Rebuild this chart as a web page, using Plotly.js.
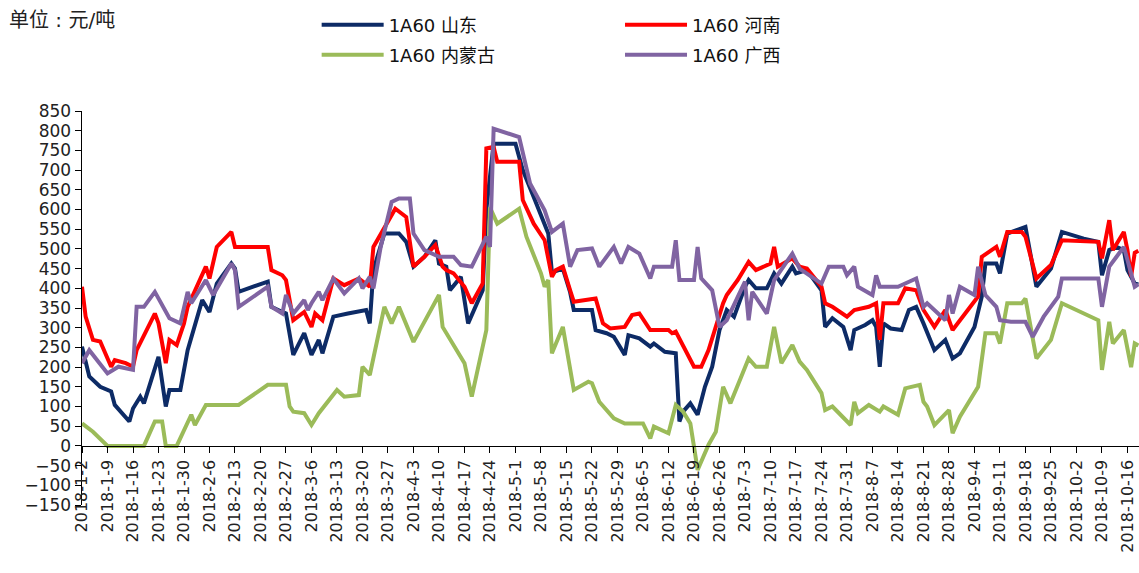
<!DOCTYPE html>
<html>
<head>
<meta charset="utf-8">
<script src="https://cdn.plot.ly/plotly-3.0.1.min.js"></script>
<style>html,body{margin:0;padding:0;background:#fff;}#chart{width:1139px;height:573px;}</style>
</head>
<body>
<div id="chart"></div>
<script>
// 1A60 山东
const sdDates = ["2018-01-02","2018-01-04","2018-01-07","2018-01-10","2018-01-11","2018-01-15","2018-01-16","2018-01-18","2018-01-19","2018-01-23","2018-01-25","2018-01-26","2018-01-29","2018-01-31","2018-02-04","2018-02-06","2018-02-08","2018-02-12","2018-02-13","2018-02-14","2018-02-22","2018-02-23","2018-02-26","2018-02-27","2018-03-01","2018-03-04","2018-03-06","2018-03-08","2018-03-09","2018-03-12","2018-03-16","2018-03-21","2018-03-22","2018-03-23","2018-03-26","2018-03-30","2018-04-01","2018-04-03","2018-04-06","2018-04-09","2018-04-10","2018-04-12","2018-04-13","2018-04-16","2018-04-18","2018-04-22","2018-04-23","2018-04-25","2018-05-01","2018-05-03","2018-05-06","2018-05-10","2018-05-11","2018-05-14","2018-05-16","2018-05-17","2018-05-22","2018-05-23","2018-05-26","2018-05-28","2018-05-31","2018-06-01","2018-06-04","2018-06-07","2018-06-08","2018-06-11","2018-06-14","2018-06-15","2018-06-16","2018-06-18","2018-06-20","2018-06-22","2018-06-24","2018-06-26","2018-06-28","2018-06-30","2018-07-03","2018-07-04","2018-07-06","2018-07-09","2018-07-11","2018-07-13","2018-07-16","2018-07-17","2018-07-20","2018-07-24","2018-07-25","2018-07-27","2018-07-30","2018-08-01","2018-08-02","2018-08-05","2018-08-07","2018-08-08","2018-08-09","2018-08-10","2018-08-12","2018-08-15","2018-08-17","2018-08-19","2018-08-21","2018-08-24","2018-08-27","2018-08-29","2018-08-31","2018-09-04","2018-09-06","2018-09-07","2018-09-10","2018-09-11","2018-09-13","2018-09-18","2018-09-21","2018-09-25","2018-09-28","2018-10-04","2018-10-08","2018-10-09","2018-10-11","2018-10-13","2018-10-15","2018-10-16","2018-10-18","2018-10-19"];
const sdValues = [252,176,150,138,104,62,95,125,108,226,100,142,142,243,370,340,412,463,450,391,417,353,340,336,231,286,231,269,235,328,336,345,311,446,539,539,518,455,480,522,463,455,395,429,311,395,600,767,767,700,632,539,440,450,390,345,345,294,286,277,231,281,273,252,260,239,235,62,87,108,79,150,201,294,345,328,404,421,400,400,438,412,455,438,446,395,302,324,302,243,294,307,319,302,201,311,298,294,345,353,311,243,269,222,235,302,379,463,463,438,539,556,404,450,543,526,518,433,497,505,497,446,412,410];

// 1A60 河南
const hnDates = ["2018-01-02","2018-01-03","2018-01-05","2018-01-07","2018-01-10","2018-01-11","2018-01-14","2018-01-16","2018-01-17","2018-01-22","2018-01-23","2018-01-25","2018-01-26","2018-01-28","2018-01-30","2018-01-31","2018-02-05","2018-02-06","2018-02-08","2018-02-12","2018-02-13","2018-02-22","2018-02-23","2018-02-26","2018-02-27","2018-03-01","2018-03-04","2018-03-06","2018-03-07","2018-03-09","2018-03-12","2018-03-15","2018-03-19","2018-03-22","2018-03-23","2018-03-26","2018-03-29","2018-04-01","2018-04-02","2018-04-03","2018-04-06","2018-04-09","2018-04-11","2018-04-12","2018-04-14","2018-04-17","2018-04-19","2018-04-22","2018-04-23","2018-04-25","2018-04-26","2018-05-02","2018-05-03","2018-05-06","2018-05-09","2018-05-11","2018-05-12","2018-05-14","2018-05-16","2018-05-17","2018-05-23","2018-05-25","2018-05-27","2018-05-31","2018-06-02","2018-06-04","2018-06-07","2018-06-12","2018-06-13","2018-06-14","2018-06-19","2018-06-21","2018-06-23","2018-06-27","2018-06-28","2018-07-01","2018-07-04","2018-07-06","2018-07-10","2018-07-11","2018-07-12","2018-07-16","2018-07-18","2018-07-20","2018-07-24","2018-07-25","2018-07-27","2018-07-31","2018-08-02","2018-08-06","2018-08-08","2018-08-09","2018-08-10","2018-08-14","2018-08-16","2018-08-19","2018-08-21","2018-08-24","2018-08-27","2018-08-29","2018-09-05","2018-09-06","2018-09-10","2018-09-11","2018-09-13","2018-09-17","2018-09-18","2018-09-21","2018-09-25","2018-09-28","2018-10-08","2018-10-09","2018-10-11","2018-10-12","2018-10-15","2018-10-16","2018-10-17","2018-10-18","2018-10-19"];
const hnValues = [404,328,269,265,201,218,210,201,243,336,311,210,269,256,311,353,455,425,505,543,505,505,446,433,421,319,340,302,336,319,425,408,425,404,505,556,602,581,514,455,480,510,455,446,438,404,362,412,755,759,721,721,624,564,522,429,446,455,395,366,374,311,298,302,332,336,294,294,286,290,201,201,243,362,383,421,467,446,463,505,455,476,455,450,404,362,353,328,345,353,362,269,362,362,400,395,345,302,345,294,379,480,505,480,543,543,531,425,459,522,518,476,573,497,543,497,430,490,495];

// 1A60 内蒙古
const nmgDates = ["2018-01-02","2018-01-05","2018-01-09","2018-01-19","2018-01-22","2018-01-24","2018-01-25","2018-01-28","2018-02-01","2018-02-02","2018-02-05","2018-02-14","2018-02-22","2018-02-27","2018-02-28","2018-03-01","2018-03-04","2018-03-06","2018-03-08","2018-03-13","2018-03-15","2018-03-19","2018-03-20","2018-03-22","2018-03-26","2018-03-28","2018-03-30","2018-04-03","2018-04-10","2018-04-11","2018-04-17","2018-04-19","2018-04-23","2018-04-24","2018-04-26","2018-05-02","2018-05-04","2018-05-08","2018-05-09","2018-05-10","2018-05-11","2018-05-14","2018-05-17","2018-05-21","2018-05-22","2018-05-24","2018-05-28","2018-05-31","2018-06-05","2018-06-07","2018-06-08","2018-06-12","2018-06-14","2018-06-16","2018-06-18","2018-06-20","2018-06-23","2018-06-25","2018-06-27","2018-06-29","2018-07-02","2018-07-04","2018-07-06","2018-07-09","2018-07-11","2018-07-13","2018-07-16","2018-07-18","2018-07-20","2018-07-24","2018-07-25","2018-07-27","2018-08-01","2018-08-02","2018-08-03","2018-08-06","2018-08-09","2018-08-10","2018-08-14","2018-08-16","2018-08-20","2018-08-21","2018-08-22","2018-08-24","2018-08-28","2018-08-29","2018-08-31","2018-09-05","2018-09-07","2018-09-10","2018-09-11","2018-09-13","2018-09-17","2018-09-18","2018-09-21","2018-09-25","2018-09-28","2018-10-08","2018-10-09","2018-10-11","2018-10-12","2018-10-15","2018-10-17","2018-10-18","2018-10-19"];
const nmgValues = [57,36,0,0,62,62,0,0,79,53,104,104,155,155,100,87,83,53,83,142,125,129,201,180,353,311,353,264,383,302,210,125,294,605,564,602,531,438,404,421,235,302,142,163,159,112,70,57,57,19,49,32,104,87,57,-61,3,36,150,108,176,222,201,201,302,210,256,214,193,134,91,100,53,112,83,104,87,100,79,146,155,112,100,53,91,32,74,150,286,286,260,362,362,374,222,269,362,319,193,315,260,294,200,260,255];

// 1A60 广西
const gxDates = ["2018-01-02","2018-01-04","2018-01-09","2018-01-12","2018-01-16","2018-01-17","2018-01-19","2018-01-22","2018-01-26","2018-01-29","2018-01-31","2018-02-01","2018-02-05","2018-02-07","2018-02-12","2018-02-13","2018-02-14","2018-02-22","2018-02-23","2018-02-26","2018-02-27","2018-02-28","2018-03-01","2018-03-04","2018-03-05","2018-03-06","2018-03-08","2018-03-09","2018-03-12","2018-03-15","2018-03-19","2018-03-20","2018-03-22","2018-03-23","2018-03-25","2018-03-28","2018-03-30","2018-04-02","2018-04-03","2018-04-06","2018-04-10","2018-04-14","2018-04-16","2018-04-19","2018-04-23","2018-04-24","2018-04-25","2018-05-02","2018-05-05","2018-05-09","2018-05-11","2018-05-14","2018-05-16","2018-05-18","2018-05-22","2018-05-24","2018-05-28","2018-05-30","2018-06-01","2018-06-04","2018-06-07","2018-06-08","2018-06-13","2018-06-14","2018-06-15","2018-06-19","2018-06-20","2018-06-21","2018-06-24","2018-06-26","2018-06-28","2018-07-03","2018-07-04","2018-07-05","2018-07-09","2018-07-11","2018-07-16","2018-07-18","2018-07-24","2018-07-26","2018-07-30","2018-07-31","2018-08-02","2018-08-03","2018-08-07","2018-08-08","2018-08-09","2018-08-14","2018-08-16","2018-08-19","2018-08-21","2018-08-22","2018-08-27","2018-08-28","2018-08-29","2018-08-31","2018-09-04","2018-09-05","2018-09-07","2018-09-10","2018-09-11","2018-09-14","2018-09-18","2018-09-20","2018-09-23","2018-09-27","2018-09-28","2018-10-08","2018-10-09","2018-10-11","2018-10-13","2018-10-15","2018-10-16","2018-10-18","2018-10-19"];
const gxValues = [210,243,184,201,193,353,353,391,324,311,391,362,421,383,463,446,353,404,353,336,383,362,336,370,345,362,391,370,425,387,425,400,429,400,505,619,628,628,539,497,480,480,459,455,531,505,805,784,666,598,543,564,455,497,501,455,505,463,505,488,425,455,455,522,421,421,505,425,395,302,319,417,319,391,336,421,488,450,412,455,455,433,455,404,383,433,404,404,412,425,353,362,319,383,336,404,383,455,383,353,319,315,315,277,328,379,425,425,353,455,480,505,472,404,410];

const seriesNames = ["1A60 山东", "1A60 河南", "1A60 内蒙古", "1A60 广西"];
const seriesColors = ["#0D2B66", "#FF0000", "#9BBB59", "#8064A2"];
const unitLabel = "单位 : 元/吨";

const font = "DejaVu Sans, Noto Sans CJK SC, sans-serif";
const xs = [sdDates, hnDates, nmgDates, gxDates];
const ys = [sdValues, hnValues, nmgValues, gxValues];
const legendIds = ["legend", "legend2", "legend3", "legend4"];

const traces = seriesNames.map((n, i) => ({
  type: "scatter", mode: "lines", name: n, x: xs[i], y: ys[i],
  line: {color: seriesColors[i], width: 4},
  legend: legendIds[i], hoverinfo: "skip"
}));

const legendBase = {orientation: "h", xanchor: "left", yanchor: "middle", bgcolor: "rgba(0,0,0,0)",
  font: {family: font, size: 18, color: "#111"}, itemwidth: 62};
const colX = [0.222, 0.509];
const rowY = [1.218, 1.142];

const layout = {
  width: 1139, height: 573,
  margin: {l: 82, r: 0, t: 111, b: 68},
  paper_bgcolor: "#fff", plot_bgcolor: "#fff",
  showlegend: true,
  legend: Object.assign({}, legendBase, {x: colX[0], y: rowY[0]}),
  legend2: Object.assign({}, legendBase, {x: colX[1], y: rowY[0]}),
  legend3: Object.assign({}, legendBase, {x: colX[0], y: rowY[1]}),
  legend4: Object.assign({}, legendBase, {x: colX[1], y: rowY[1]}),
  xaxis: {
    type: "date", range: ["2018-01-02", "2018-10-19 04:00"],
    anchor: "free", position: 0.15,
    tick0: "2018-01-02", dtick: 7 * 86400000, tickformat: "%Y-%-m-%-d",
    tickangle: -90, ticks: "outside", ticklen: 6, tickcolor: "#000",
    showline: true, linecolor: "#000", linewidth: 1.5,
    showgrid: false, zeroline: false, automargin: false,
    tickfont: {family: font, size: 16, color: "#222"}
  },
  yaxis: {
    range: [-150, 850], dtick: 50, tick0: 0,
    ticks: "outside", ticklen: 6, tickcolor: "#000",
    showline: true, linecolor: "#000", linewidth: 1.5,
    showgrid: false, zeroline: false, automargin: false,
    tickfont: {family: font, size: 17, color: "#222"}
  },
  annotations: [{
    text: unitLabel, xref: "paper", yref: "paper", x: -0.071, y: 1.23,
    xanchor: "left", yanchor: "middle", showarrow: false,
    font: {family: font, size: 20, color: "#222"}
  }]
};

Plotly.newPlot("chart", traces, layout, {staticPlot: true, displayModeBar: false});
</script>
</body>
</html>
